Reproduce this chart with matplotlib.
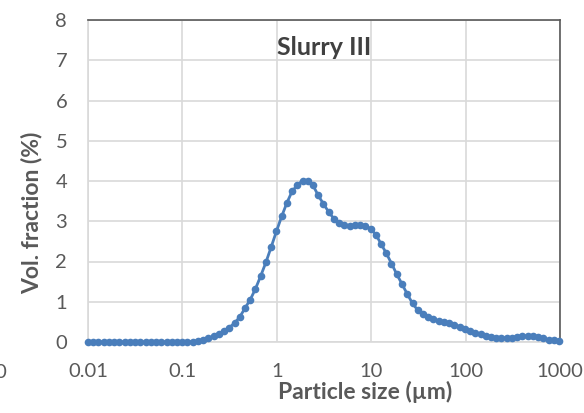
import numpy as np
import matplotlib.pyplot as plt

# particle size classes (um) and volume fraction (%)
size_um = [0.0100, 0.0114, 0.0129, 0.0147, 0.0167, 0.0189, 0.0215, 0.0244, 0.0278, 0.0315,
           0.0358, 0.0407, 0.0463, 0.0526, 0.0597, 0.0679, 0.0771, 0.0876, 0.0995, 0.113,
           0.128, 0.146, 0.166, 0.188, 0.214, 0.243, 0.276, 0.314, 0.357, 0.405,
           0.460, 0.523, 0.594, 0.675, 0.767, 0.872, 0.991, 1.13, 1.28, 1.45,
           1.65, 1.88, 2.13, 2.42, 2.75, 3.12, 3.55, 4.03, 4.58, 5.21,
           5.92, 6.72, 7.64, 8.68, 9.86, 11.2, 12.7, 14.5, 16.4, 18.7,
           21.2, 24.1, 27.4, 31.1, 35.3, 40.1, 45.6, 51.8, 58.9, 66.9,
           76.0, 86.4, 98.1, 111, 127, 144, 163, 186, 211, 240,
           272, 310, 352, 400, 454, 516, 586, 666, 756, 859, 976]

vol_frac = [0, 0, 0, 0, 0, 0, 0, 0, 0, 0,
            0, 0, 0, 0, 0, 0, 0, 0, 0, 0,
            0.01, 0.02, 0.05, 0.10, 0.14, 0.20, 0.28, 0.36, 0.47, 0.62,
            0.84, 1.05, 1.32, 1.64, 1.98, 2.36, 2.75, 3.13, 3.46, 3.74,
            3.90, 4.01, 3.99, 3.89, 3.64, 3.43, 3.23, 3.06, 2.96, 2.90,
            2.87, 2.90, 2.91, 2.89, 2.81, 2.67, 2.44, 2.20, 1.95, 1.68,
            1.44, 1.19, 0.96, 0.79, 0.69, 0.62, 0.57, 0.52, 0.49, 0.46,
            0.43, 0.38, 0.33, 0.28, 0.23, 0.19, 0.16, 0.13, 0.11, 0.10,
            0.10, 0.11, 0.13, 0.14, 0.15, 0.14, 0.12, 0.09, 0.06, 0.04, 0.03]

xticks = [0.01, 0.1, 1, 10, 100, 1000]
xtick_labels = ['0.01', '0.1', '1', '10', '100', '1000']

plt.rcParams['font.family'] = ['Lato', 'DejaVu Sans']
txt = '#595959'

fig = plt.figure(figsize=(5.84, 4.13), dpi=100)
ax = fig.add_axes([88/584, 1 - 342/413, (560 - 88)/584, (342 - 20)/413])

ax.plot(size_um, vol_frac, color='#4a7ebb', lw=2, marker='o', ms=5.5,
        markeredgewidth=0, clip_on=False, zorder=3)

ax.set_xscale('log')
ax.set_xlim(0.01, 1000)
ax.set_ylim(0, 8)
ax.set_xticks(xticks)
ax.set_xticklabels(xtick_labels)
ax.minorticks_off()
ax.set_yticks(range(0, 9))
ax.grid(True, color='#d9d9d9', lw=1.2)
ax.set_axisbelow(True)
ax.tick_params(length=0, labelsize=14.5, colors=txt)
ax.tick_params(axis='x', pad=15)
ax.tick_params(axis='y', pad=15)

for s in ['left', 'bottom']:
    ax.spines[s].set_color('#d9d9d9')
    ax.spines[s].set_linewidth(1.2)
for s in ['top', 'right']:
    ax.spines[s].set_color('#595959')
    ax.spines[s].set_linewidth(1.2)

ax.set_xlabel('Particle size (µm)', fontsize=16.5, fontweight='bold', color=txt)
ax.set_ylabel('Vol. fraction (%)', fontsize=16.5, fontweight='bold', color=txt)
ax.xaxis.set_label_coords(0.587, (342 - 381) / 322)
ax.yaxis.set_label_coords((42 - 88) / 472, 0.40)
ax.text(0.5, 0.915, 'Slurry III', transform=ax.transAxes, ha='center', va='center',
        fontsize=18, fontweight='bold', color='#404040')

# cut-off tick label from a neighbouring chart
fig.text(0.012, 1 - 373/413, '1000', ha='right', va='center', fontsize=14.5, color=txt)

fig.savefig('out.png', dpi=100)
